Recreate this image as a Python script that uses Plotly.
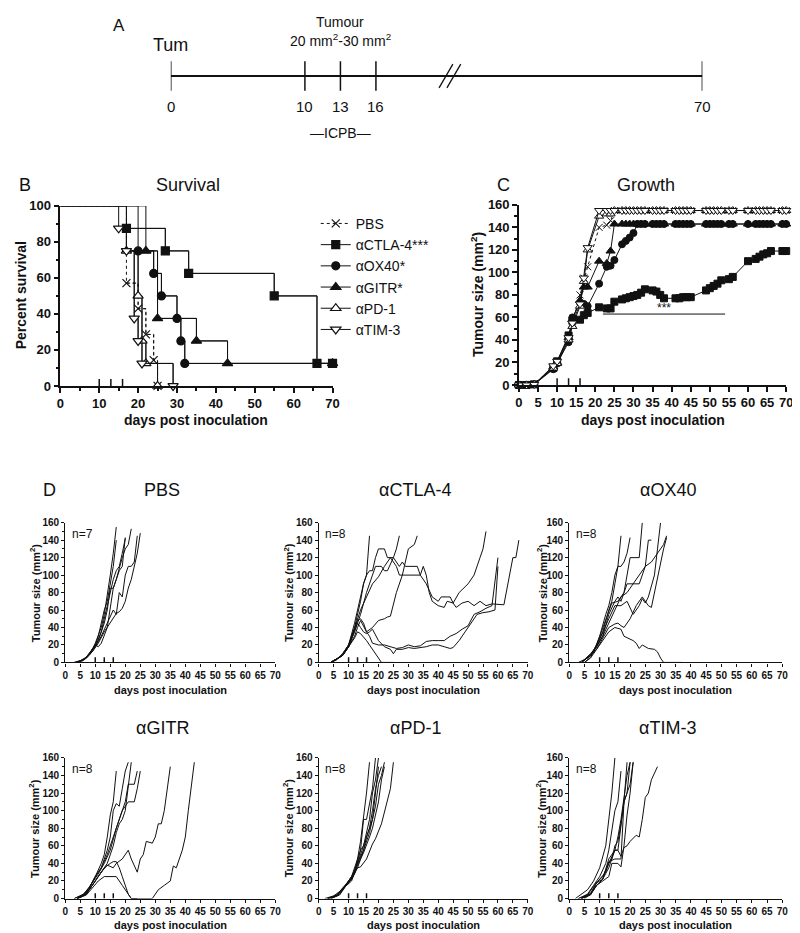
import plotly.graph_objects as go

FONT = "Liberation Sans, Arial, Helvetica, sans-serif"
W, H = 800, 933
BLACK = "#111111"

# ---------------- Panel A (schematic timeline) ----------------
timeline_days = [0, 10, 13, 16, 70]
timeline_pos = [0, 136, 172, 208, 539]      # schematic positions of the day marks
break_pos = 283                              # schematic position of the axis break
icpb_days = [10, 13, 16]

# ---------------- Panel B (Kaplan-Meier survival) ----------------
groups = ["PBS", "αCTLA-4***", "αOX40*", "αGITR*", "αPD-1", "αTIM-3"]
km_pbs_t = [0, 17, 20, 22, 24, 25]
km_pbs_s = [100, 57.1, 42.9, 28.6, 14.3, 0]
km_ctla4_t = [0, 17, 27, 33, 55, 66, 70]
km_ctla4_s = [100, 87.5, 75, 62.5, 50, 12.5, 12.5]
km_ox40_t = [0, 20, 24, 26, 30, 31, 32, 70]
km_ox40_s = [100, 75, 62.5, 50, 37.5, 25, 12.5, 12.5]
km_gitr_t = [0, 22, 25, 35, 43, 70]
km_gitr_s = [100, 75, 37.5, 25, 12.5, 12.5]
km_pd1_t = [0, 17, 20, 21, 22, 25]
km_pd1_s = [100, 75, 50, 25, 12.5, 0]
km_tim3_t = [0, 15, 17, 19, 20, 21, 29]
km_tim3_s = [100, 87.5, 75, 37.5, 25, 12.5, 0]

# ---------------- Panel C (mean growth) ----------------
growth_days = [0, 2, 4, 9, 10, 13, 14, 16, 17, 18, 21, 23, 24, 25, 27, 28, 29, 30, 31, 32,
               33, 35, 36, 37, 38, 41, 42, 43, 44, 45, 49, 50, 51, 52, 53, 55, 56, 60, 62, 63,
               64, 65, 66, 69, 70]
growth_pbs = [0, 0, 1, 16, 20, 43, 55, 80, 95, 105, 140, 142, 146, 155] + [155] * 31
growth_ctla4 = [0, 0, 0.5, 15, 21, 44, 57, 58, 62, 64, 69, 68, 68, 74, 76, 77, 78, 79, 80, 82,
                85, 84, 83, 80, 77, 77, 77, 78, 78, 78, 84, 86, 88, 90, 93, 94, 96, 110, 112, 114,
                116, 117, 119, 119, 119]
growth_ox40 = [0, 0, 0.5, 14, 19, 38, 60, 73, 72, 70, 90, 105, 106, 111, 125, 128, 131, 135, 143] + [143] * 26
growth_gitr = [0, 0, 0.5, 16, 20, 42, 58, 75, 87, 87, 110, 108, 119, 143] + [143] * 31
growth_pd1 = [0, 0, 0.5, 15, 19, 40, 52, 70, 92, 120, 150, 152, 152, 155] + [155] * 31
growth_tim3 = [0, 0, 0.5, 17, 21, 42, 55, 72, 95, 122, 155, 155, 155, 155] + [155] * 31
sig_days = [22, 54]
sig_level = 63

# ---------------- Panel D (individual mice: (day, size) pairs) ----------------
ind_pbs = [
    [(3, 0), (5, 2), (7, 6), (9, 15), (10, 22), (12, 40), (13, 55), (14, 75), (15, 100), (16, 125), (17, 155)],
    [(4, 0), (6, 3), (8, 10), (10, 20), (11, 30), (12, 45), (13, 60), (14, 70), (15, 88), (16, 110), (17, 140)],
    [(4, 0), (6, 3), (8, 10), (10, 20), (11, 25), (13, 45), (14, 60), (15, 85), (16, 85), (17, 95), (18, 105), (19, 110), (20, 143)],
    [(4, 0), (7, 5), (9, 15), (10, 20), (11, 18), (12, 22), (14, 40), (15, 65), (16, 85), (17, 95), (18, 108), (19, 120), (20, 130), (21, 135), (22, 153)],
    [(4, 0), (7, 5), (9, 14), (10, 18), (12, 30), (14, 45), (16, 60), (17, 55), (18, 80), (19, 75), (20, 100), (21, 110), (22, 110), (23, 115), (24, 145)],
    [(3, 0), (6, 3), (9, 12), (11, 22), (13, 35), (15, 45), (17, 56), (18, 58), (19, 62), (20, 70), (21, 85), (22, 95), (23, 110), (24, 125), (25, 148)],
    [(4, 0), (6, 2), (8, 8), (10, 18), (12, 35), (13, 50), (14, 65), (15, 80), (16, 95), (17, 105), (18, 110), (19, 125), (20, 142)],
]
ind_ctla4 = [
    [(4, 0), (6, 3), (8, 10), (10, 20), (12, 40), (13, 55), (14, 70), (15, 90), (16, 100), (17, 145)],
    [(4, 0), (6, 3), (8, 10), (10, 20), (12, 45), (14, 75), (15, 90), (16, 100), (17, 105), (18, 105), (19, 120), (20, 130), (22, 130), (23, 120), (25, 120), (26, 130), (27, 145)],
    [(4, 0), (8, 8), (10, 18), (12, 35), (14, 55), (16, 80), (18, 100), (19, 110), (21, 110), (22, 105), (23, 105), (25, 120), (27, 110), (28, 115), (29, 110), (33, 110), (34, 100), (35, 110), (36, 100), (37, 80), (38, 70), (40, 65), (42, 63), (43, 70), (45, 68), (46, 63), (48, 68), (50, 70), (52, 65), (54, 70), (56, 65), (58, 67), (62, 66), (63, 85), (64, 100), (65, 120), (66, 120), (67, 140)],
    [(4, 0), (8, 8), (10, 18), (12, 30), (13, 40), (14, 48), (16, 35), (17, 38), (18, 40), (20, 48), (22, 50), (23, 52), (24, 53), (26, 80), (28, 100), (30, 130), (32, 135), (33, 145)],
    [(4, 0), (8, 8), (10, 18), (12, 40), (14, 60), (16, 75), (18, 90), (20, 98), (22, 110), (24, 120), (26, 110), (27, 100), (29, 100), (33, 100), (34, 100), (36, 90), (38, 75), (40, 70), (41, 75), (43, 75), (44, 75), (45, 68), (47, 80), (50, 90), (52, 100), (54, 120), (55, 130), (56, 150)],
    [(4, 0), (8, 8), (10, 18), (12, 35), (13, 45), (14, 40), (15, 35), (16, 33), (17, 35), (18, 38), (19, 32), (20, 25), (22, 18), (24, 15), (25, 10), (26, 15), (28, 15), (30, 17), (32, 16), (34, 17), (36, 18), (38, 20), (40, 20), (42, 18), (44, 16), (45, 17), (47, 25), (49, 35), (51, 45), (53, 55), (55, 57), (57, 58), (59, 60), (60, 110)],
    [(4, 0), (8, 8), (10, 20), (12, 40), (13, 48), (14, 50), (15, 45), (16, 35), (17, 30), (18, 22), (20, 20), (22, 20), (24, 18), (26, 16), (28, 17), (30, 20), (32, 18), (34, 19), (36, 24), (38, 25), (40, 25), (42, 25), (44, 30), (46, 33), (48, 38), (50, 42), (52, 55), (54, 58), (56, 62), (58, 65), (60, 120)],
    [(4, 0), (8, 8), (10, 18), (12, 28), (13, 35), (14, 33), (16, 25), (18, 15), (20, 5), (21, 0), (25, 0)],
]
ind_ox40 = [
    [(3, 0), (6, 5), (8, 12), (10, 30), (12, 55), (13, 65), (14, 80), (15, 100), (16, 110), (17, 145)],
    [(4, 0), (7, 8), (9, 20), (11, 35), (13, 60), (14, 70), (15, 90), (16, 110), (17, 110), (18, 115), (19, 125), (20, 143)],
    [(4, 0), (7, 8), (9, 20), (11, 40), (13, 60), (14, 68), (16, 70), (18, 80), (20, 120), (22, 120), (23, 120), (24, 160)],
    [(4, 0), (7, 10), (9, 18), (11, 30), (13, 55), (15, 70), (16, 75), (17, 70), (19, 90), (21, 90), (23, 90), (25, 110), (26, 140), (27, 140)],
    [(5, 0), (7, 6), (9, 18), (11, 35), (13, 50), (15, 65), (17, 65), (19, 70), (21, 55), (22, 60), (23, 65), (24, 73), (25, 68), (26, 75), (28, 100), (29, 130), (30, 160)],
    [(5, 0), (7, 5), (9, 15), (11, 28), (13, 40), (15, 44), (16, 45), (17, 42), (18, 40), (20, 50), (22, 65), (24, 75), (26, 65), (27, 63), (28, 80), (29, 100), (31, 130), (32, 143)],
    [(4, 0), (7, 8), (9, 18), (11, 30), (13, 45), (15, 60), (17, 75), (19, 80), (21, 90), (23, 100), (25, 110), (27, 115), (29, 125), (31, 135), (32, 145)],
    [(4, 0), (7, 8), (9, 15), (11, 25), (13, 35), (15, 40), (17, 38), (18, 30), (20, 27), (21, 25), (22, 22), (23, 16), (24, 20), (25, 18), (26, 16), (28, 15), (29, 12), (30, 5), (31, 0), (37, 0)],
]
ind_gitr = [
    [(3, 0), (6, 5), (8, 12), (10, 25), (12, 40), (13, 50), (14, 70), (15, 95), (16, 110), (17, 145)],
    [(3, 0), (6, 4), (8, 12), (10, 25), (12, 35), (14, 55), (15, 70), (16, 100), (17, 108), (18, 105), (19, 125), (20, 145), (21, 155)],
    [(4, 0), (6, 3), (8, 12), (10, 25), (12, 35), (14, 50), (16, 70), (18, 90), (20, 110), (21, 130), (22, 130), (23, 130), (24, 145)],
    [(4, 0), (6, 4), (9, 18), (11, 28), (13, 40), (15, 55), (17, 80), (18, 90), (19, 100), (20, 105), (21, 110), (23, 110), (24, 125), (25, 145)],
    [(4, 0), (6, 3), (8, 10), (10, 20), (12, 30), (14, 38), (16, 35), (17, 40), (19, 45), (21, 55), (22, 45), (24, 30), (25, 45), (26, 50), (27, 65), (29, 63), (30, 70), (31, 85), (32, 85), (33, 100), (35, 150)],
    [(4, 0), (7, 5), (9, 15), (11, 25), (13, 35), (15, 40), (16, 42), (17, 42), (18, 35), (19, 25), (21, 5), (22, 0), (24, 0)],
    [(4, 0), (7, 4), (9, 12), (11, 20), (13, 25), (17, 25), (19, 15), (21, 5), (22, 0), (29, 0), (31, 10), (33, 15), (35, 20), (36, 37), (37, 35), (39, 55), (40, 70), (41, 100), (43, 155)],
    [(4, 0), (7, 5), (9, 15), (11, 25), (13, 35), (14, 40), (16, 60), (17, 75), (18, 85), (19, 90), (20, 100), (21, 125), (22, 155)],
]
ind_pd1 = [
    [(2, 0), (5, 3), (7, 8), (9, 15), (11, 25), (13, 45), (14, 65), (15, 90), (16, 120), (17, 155)],
    [(3, 0), (6, 4), (8, 10), (10, 18), (12, 30), (13, 45), (14, 55), (15, 90), (16, 90), (17, 110), (18, 125), (19, 160)],
    [(3, 0), (6, 3), (8, 10), (10, 18), (12, 28), (14, 55), (15, 60), (16, 75), (17, 90), (18, 120), (19, 135), (20, 160)],
    [(4, 0), (6, 3), (9, 15), (11, 25), (13, 40), (15, 60), (17, 80), (18, 100), (19, 125), (20, 140), (21, 150)],
    [(4, 0), (7, 5), (9, 15), (11, 22), (13, 35), (15, 55), (17, 75), (18, 90), (19, 105), (20, 130), (21, 140), (22, 155)],
    [(4, 0), (7, 4), (9, 14), (11, 20), (13, 38), (15, 52), (17, 70), (18, 80), (19, 95), (20, 110), (21, 135), (22, 150)],
    [(3, 0), (6, 4), (8, 12), (10, 20), (12, 30), (13, 35), (14, 36), (15, 40), (16, 45), (18, 62), (19, 68), (21, 85), (23, 110), (24, 125), (25, 155)],
    [(3, 0), (6, 3), (9, 15), (11, 22), (13, 40), (15, 55), (16, 70), (17, 80), (18, 90), (19, 120), (20, 150)],
]
ind_tim3 = [
    [(2, 0), (5, 8), (6, 10), (8, 20), (10, 35), (12, 60), (13, 90), (14, 120), (15, 160)],
    [(3, 0), (6, 5), (8, 15), (10, 25), (12, 40), (13, 55), (15, 100), (16, 110), (17, 145)],
    [(4, 0), (7, 6), (9, 18), (11, 25), (13, 40), (15, 55), (16, 55), (17, 80), (18, 110), (19, 155)],
    [(4, 0), (7, 5), (9, 15), (11, 22), (13, 35), (14, 45), (15, 60), (16, 65), (17, 85), (18, 110), (19, 120), (20, 155)],
    [(4, 0), (7, 5), (9, 18), (11, 22), (13, 42), (15, 45), (17, 45), (18, 110), (19, 120), (20, 130), (21, 155)],
    [(5, 0), (7, 5), (9, 15), (11, 20), (13, 25), (14, 40), (15, 40), (16, 40), (17, 36), (18, 60), (19, 95), (20, 120), (21, 155)],
    [(4, 0), (7, 4), (9, 15), (11, 22), (13, 45), (15, 55), (16, 55), (17, 48), (18, 58), (19, 60), (20, 65), (21, 68), (22, 72), (23, 70), (24, 90), (25, 115), (26, 120), (27, 135), (29, 150)],
    [(3, 0), (6, 4), (8, 14), (10, 22), (12, 30), (13, 40), (14, 45), (15, 55), (16, 70), (17, 90), (18, 115), (19, 140), (20, 155)],
]
d_titles = ["PBS", "αCTLA-4", "αOX40", "αGITR", "αPD-1", "αTIM-3"]
d_counts = ["n=7", "n=8", "n=8", "n=8", "n=8", "n=8"]
x_title = "days post inoculation"
surv_title = "Percent survival"
size_title = "Tumour size (mm<sup>2</sup>)"

# ---------------- layout helpers (pixel geometry) ----------------
def fx(p):
    return p / W


def fy(p):
    return 1 - p / H


def axis(dom, rng, dtick, minor, fs, anchor, lw, tlen):
    d = dict(domain=dom, range=rng, anchor=anchor, showline=True, linecolor=BLACK, linewidth=lw,
             ticks="outside", ticklen=tlen, tickwidth=lw, tickcolor=BLACK, dtick=dtick, tick0=0,
             tickfont=dict(family=FONT, size=fs, color=BLACK, weight="bold"),
             showgrid=False, zeroline=False, fixedrange=True)
    if minor:
        d["minor"] = dict(dtick=minor, tick0=0, ticks="outside", ticklen=max(tlen - 2, 2),
                          tickwidth=lw, tickcolor=BLACK, showgrid=False)
    return d


fig = go.Figure()

# ---- Panel B ----
km = [(km_pbs_t, km_pbs_s), (km_ctla4_t, km_ctla4_s), (km_ox40_t, km_ox40_s),
      (km_gitr_t, km_gitr_s), (km_pd1_t, km_pd1_s), (km_tim3_t, km_tim3_s)]
sym = ["x-thin-open", "square", "circle", "triangle-up", "triangle-up", "triangle-down"]
fill = [BLACK, BLACK, BLACK, BLACK, "white", "white"]
msize = [8, 8, 8, 9, 9, 9]
for i, (t, s) in enumerate(km):
    dash = "dot" if i == 0 else "solid"
    fig.add_trace(go.Scatter(x=t, y=s, mode="lines", line=dict(color=BLACK, width=1, shape="hv", dash=dash),
                             xaxis="x", yaxis="y", showlegend=False, hoverinfo="skip", cliponaxis=False))
for i, (t, s) in enumerate(km):
    dash = "dot" if i == 0 else "solid"
    fig.add_trace(go.Scatter(x=t[1:], y=s[1:], mode="lines+markers", name=groups[i],
                             line=dict(color=BLACK, width=1, shape="hv", dash=dash),
                             marker=dict(symbol=sym[i], size=msize[i], color=fill[i],
                                         line=dict(color=BLACK, width=1.2)),
                             xaxis="x", yaxis="y", cliponaxis=False))

# ---- Panel C ----
growth = [growth_pbs, growth_ctla4, growth_ox40, growth_gitr, growth_pd1, growth_tim3]
order = [2, 3, 1, 0, 4, 5]
for i in order:
    dash = "dot" if i == 0 else "solid"
    fig.add_trace(go.Scatter(x=growth_days, y=growth[i], mode="lines+markers",
                             line=dict(color=BLACK, width=1, dash=dash),
                             marker=dict(symbol=sym[i], size=msize[i] - 1, color=fill[i],
                                         line=dict(color=BLACK, width=1)),
                             xaxis="x2", yaxis="y2", showlegend=False, cliponaxis=False))
fig.add_trace(go.Scatter(x=sig_days, y=[sig_level, sig_level], mode="lines",
                         line=dict(color=BLACK, width=1), xaxis="x2", yaxis="y2",
                         showlegend=False, hoverinfo="skip"))

# ---- Panel D ----
individual = [ind_pbs, ind_ctla4, ind_ox40, ind_gitr, ind_pd1, ind_tim3]
for k, curves in enumerate(individual):
    ax = str(k + 3)
    for c in curves:
        fig.add_trace(go.Scatter(x=[p[0] for p in c], y=[p[1] for p in c], mode="lines",
                                 line=dict(color=BLACK, width=1), xaxis="x" + ax, yaxis="y" + ax,
                                 showlegend=False, hoverinfo="skip"))

# ---- treatment marks on x axes ----
mark_h = {"": 3.8, "2": 6, "3": 6, "4": 6, "5": 6, "6": 6, "7": 6, "8": 6}
for ax, h in mark_h.items():
    xs, ys = [], []
    for d in icpb_days:
        xs += [d, d, None]
        ys += [0, h, None]
    fig.add_trace(go.Scatter(x=xs, y=ys, mode="lines", line=dict(color=BLACK, width=1.5),
                             xaxis="x" + ax, yaxis="y" + ax, showlegend=False, hoverinfo="skip",
                             cliponaxis=False))

# ---- Panel A (timeline) ----
fig.add_trace(go.Scatter(x=[timeline_pos[0], timeline_pos[-1]], y=[62, 62], mode="lines",
                         line=dict(color=BLACK, width=2), xaxis="x9", yaxis="y9",
                         showlegend=False, hoverinfo="skip"))
tx, ty = [], []
for p in timeline_pos:
    tx += [p, p, None]
    ty += [47, 77, None]
fig.add_trace(go.Scatter(x=tx, y=ty, mode="lines", line=dict(color=BLACK, width=1.5),
                         xaxis="x9", yaxis="y9", showlegend=False, hoverinfo="skip"))
bx, by = [], []
for off in (-4, 4):
    bx += [break_pos + off - 7, break_pos + off + 7, None]
    by += [74, 50, None]
fig.add_trace(go.Scatter(x=bx, y=by, mode="lines", line=dict(color=BLACK, width=1.3),
                         xaxis="x9", yaxis="y9", showlegend=False, hoverinfo="skip"))

annotations = []


def ann(text, x, y, size, xref="paper", yref="paper", angle=0, bold=False, xanchor="center"):
    annotations.append(dict(text=text, x=x, y=y, xref=xref, yref=yref, showarrow=False,
                            textangle=angle, xanchor=xanchor, yanchor="middle",
                            font=dict(family=FONT, size=size, color=BLACK,
                                      weight="bold" if bold else "normal")))


for d, p in zip(timeline_days, timeline_pos):
    ann(str(d), p, 93, 15, "x9", "y9")
ann("Tum", timeline_pos[0], 30, 18, "x9", "y9")
ann("Tumour", timeline_pos[2], 7, 14, "x9", "y9")
ann("20 mm<sup>2</sup>-30 mm<sup>2</sup>", timeline_pos[2], 25, 14, "x9", "y9")
ann("—ICPB—", timeline_pos[2], 120, 14, "x9", "y9")
ann("A", fx(108), fy(11), 17)

# panel letters / titles
ann("B", fx(13), fy(173), 18)
ann("Survival", fx(178), fy(173), 18)
ann("C", fx(498), fy(173), 18)
ann("Growth", fx(643), fy(173), 18)
ann("D", fx(38), fy(483), 18)

# B/C axis titles
ann(x_title, fx(187), fy(412), 14, bold=True)
ann(surv_title, fx(10), fy(285), 14, angle=-90, bold=True)
ann(x_title, fx(650), fy(412), 14, bold=True)
ann(size_title, fx(472), fy(284), 14, angle=-90, bold=True)
ann("***", (sig_days[0] + sig_days[1]) / 2, sig_level + 5, 12, "x2", "y2")

# D geometry
d_cols = [(54, 267), (311, 523), (565, 781)]
d_rows = [(516, 658), (755, 898)]
d_title_y = [483, 725]
d_ytitle_x = [23, 280, 537]
d_xtitle_y = [686, 925]

layout_axes = {}
layout_axes["xaxis"] = axis([fx(49), fx(325)], [0, 70], 10, 5, 13, "y", 1.5, 5)
layout_axes["yaxis"] = axis([fy(377), fy(194)], [0, 100], 20, 10, 13, "x", 1.5, 5)
layout_axes["xaxis2"] = axis([fx(514), fx(785)], [0, 70], 5, None, 13, "y2", 1.5, 5)
layout_axes["yaxis2"] = axis([fy(376), fy(193)], [0, 160], 20, 10, 13, "x2", 1.5, 5)
for k in range(6):
    r, c = divmod(k, 3)
    x0, x1 = d_cols[c]
    y0, y1 = d_rows[r]
    n = str(k + 3)
    layout_axes["xaxis" + n] = axis([fx(x0), fx(x1)], [0, 70], 5, None, 10, "y" + n, 1.2, 3)
    layout_axes["yaxis" + n] = axis([fy(y1), fy(y0)], [0, 160], 20, 10, 10, "x" + n, 1.2, 3)
    ann(d_titles[k], fx((x0 + x1) / 2 - 8), fy(d_title_y[r]), 18)
    ann(x_title, fx((x0 + x1) / 2), fy(d_xtitle_y[r]), 11, bold=True)
    ann(size_title, fx(d_ytitle_x[c]), fy((y0 + y1) / 2), 11, angle=-90, bold=True)
    ann(d_counts[k], 1.5, 147, 12, "x" + n, "y" + n, xanchor="left")

layout_axes["xaxis9"] = dict(domain=[fx(161), fx(700)], range=[0, 539], visible=False,
                             anchor="y9", fixedrange=True)
layout_axes["yaxis9"] = dict(domain=[fy(131), 1], range=[131, 0], visible=False,
                             anchor="x9", fixedrange=True)

fig.update_layout(
    width=W, height=H, margin=dict(l=0, r=0, t=0, b=0),
    paper_bgcolor="white", plot_bgcolor="white",
    font=dict(family=FONT, color=BLACK),
    legend=dict(x=fx(308), y=fy(196), xanchor="left", yanchor="top",
                font=dict(family=FONT, size=14, color=BLACK), bgcolor="rgba(0,0,0,0)",
                itemwidth=30, tracegroupgap=0),
    annotations=annotations,
    **layout_axes,
)

fig.write_html("out.html")
